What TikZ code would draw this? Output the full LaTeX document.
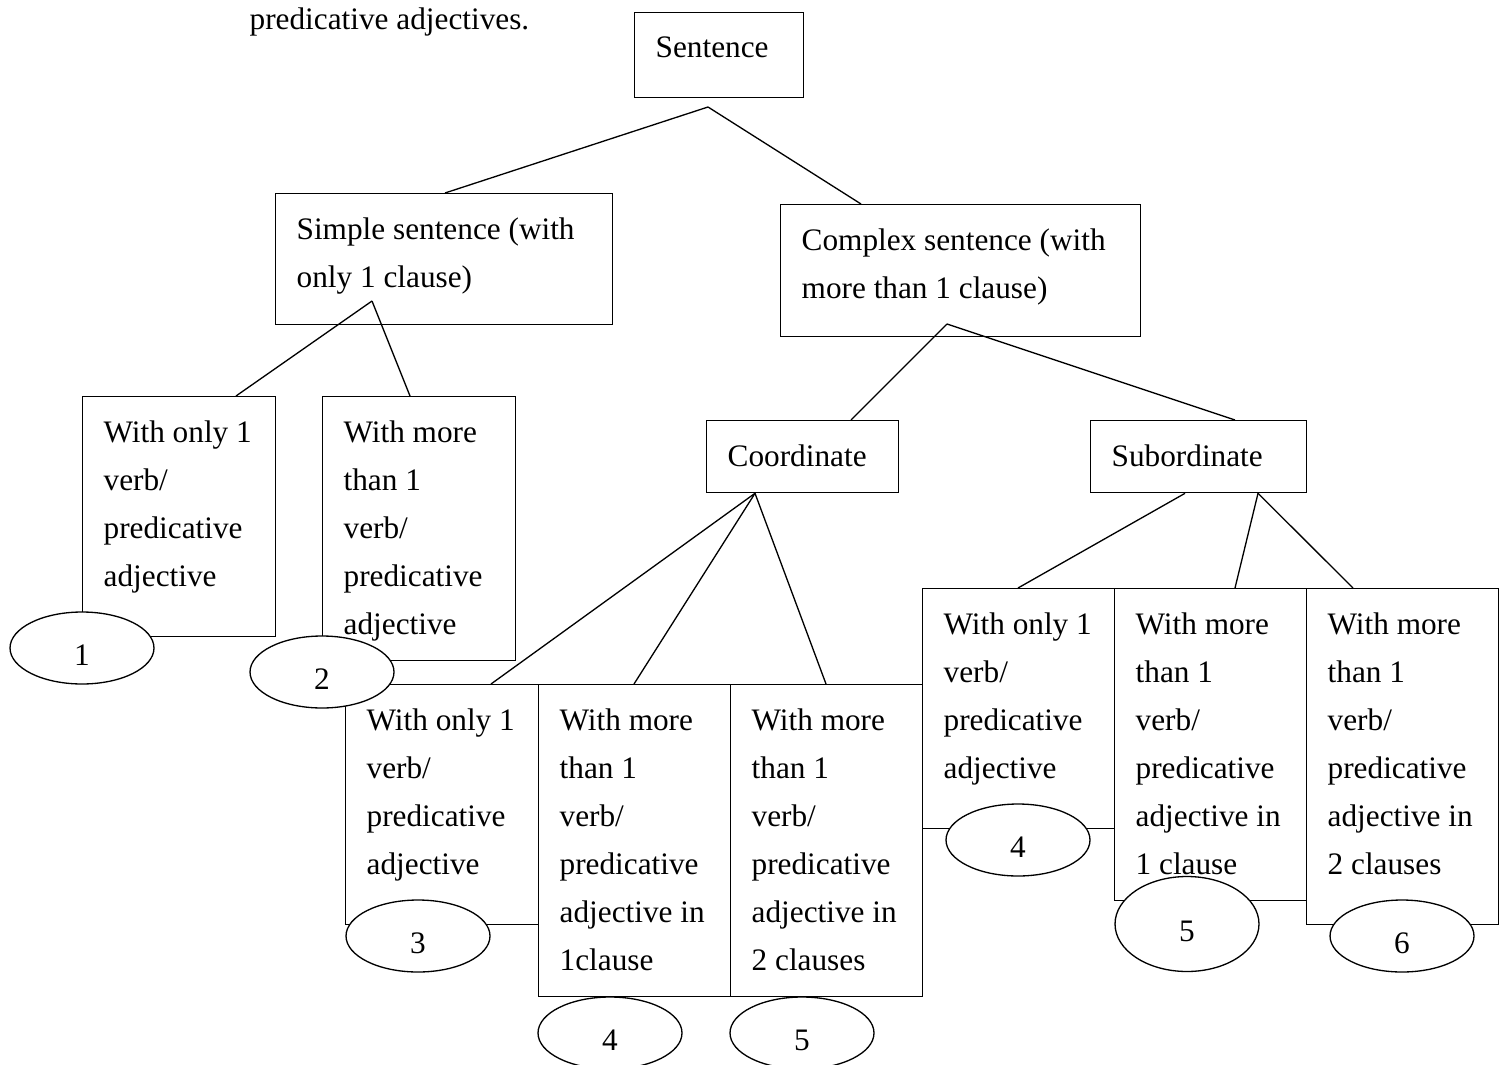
\documentclass[tikz,border=0pt]{standalone}
\usepackage{fontspec}
\setmainfont{Liberation Serif}
\usetikzlibrary{shapes.geometric}

\begin{document}
\begin{tikzpicture}[
        x=0.02cm, y=-0.02cm,
        line width=0.75pt,
        frame/.style={draw, rectangle, anchor=north west, inner sep=0pt},
        txt/.style={anchor=north west, inner sep=0pt, align=left, font=\fontsize{17.8}{27.3}\selectfont},
        num/.style={draw, ellipse, fill=white, inner sep=0pt, minimum width=2.88cm, minimum height=1.44cm,
            text height=20pt, text depth=0pt, font=\fontsize{17.8}{27.3}\selectfont}
    ]
    \useasboundingbox (0,0) rectangle (1506,1064);

    % frames
    \node[frame, minimum width=3.38cm, minimum height=1.70cm] (sentence) at (634,12) {};
    \node[frame, minimum width=6.74cm, minimum height=2.62cm] (simple) at (275,193) {};
    \node[frame, minimum width=7.20cm, minimum height=2.64cm] (complex) at (780,204) {};
    \node[frame, minimum width=3.84cm, minimum height=1.44cm] (coord) at (706,420) {};
    \node[frame, minimum width=4.32cm, minimum height=1.44cm] (subord) at (1090,420) {};
    \node[frame, minimum width=3.86cm, minimum height=4.80cm] (a1) at (82,396) {};
    \node[frame, minimum width=3.86cm, minimum height=5.28cm] (a2) at (322,396) {};
    \node[frame, minimum width=3.86cm, minimum height=4.80cm] (c1) at (345,684) {};
    \node[frame, minimum width=3.84cm, minimum height=6.24cm] (c2) at (538,684) {};
    \node[frame, minimum width=3.84cm, minimum height=6.24cm] (c3) at (730,684) {};
    \node[frame, minimum width=3.84cm, minimum height=4.80cm] (s1) at (922,588) {};
    \node[frame, minimum width=3.84cm, minimum height=6.24cm] (s2) at (1114,588) {};
    \node[frame, minimum width=3.84cm, minimum height=6.72cm] (s3) at (1306,588) {};

    % numbers
    \node[num] (n1) at (82,648) {1};
    \node[num] (n2) at (322,672) {2};
    \node[num] (n3) at (418,936) {3};
    \node[num] (n4) at (610,1033) {4};
    \node[num] (n5) at (802,1033) {5};
    \node[num] (n6) at (1018,840) {4};
    \node[num, minimum height=1.90cm] (n7) at (1187,924) {5};
    \node[num] (n8) at (1402,936) {6};

    % texts
    \node[txt, anchor=base west] (caption) at (249,30) {predicative adjectives.};
    \node[txt] (sentencetxt) at ([shift={(21,24)}]sentence.north west) {Sentence};
    \node[txt] (simpletxt) at ([shift={(21,24)}]simple.north west) {Simple sentence (with\\only 1 clause)};
    \node[txt] (complextxt) at ([shift={(21,24)}]complex.north west) {Complex sentence (with\\more than 1 clause)};
    \node[txt] (coordtxt) at ([shift={(21,24)}]coord.north west) {Coordinate};
    \node[txt] (subordtxt) at ([shift={(21,24)}]subord.north west) {Subordinate};
    \node[txt] (a1txt) at ([shift={(21,24)}]a1.north west) {With only 1\\verb/\\predicative\\adjective};
    \node[txt] (a2txt) at ([shift={(21,24)}]a2.north west) {With more\\than 1\\verb/\\predicative\\adjective};
    \node[txt] (c1txt) at ([shift={(21,24)}]c1.north west) {With only 1\\verb/\\predicative\\adjective};
    \node[txt] (c2txt) at ([shift={(21,24)}]c2.north west) {With more\\than 1\\verb/\\predicative\\adjective in\\1clause};
    \node[txt] (c3txt) at ([shift={(21,24)}]c3.north west) {With more\\than 1\\verb/\\predicative\\adjective in\\2 clauses};
    \node[txt] (s1txt) at ([shift={(21,24)}]s1.north west) {With only 1\\verb/\\predicative\\adjective};
    \node[txt] (s2txt) at ([shift={(21,24)}]s2.north west) {With more\\than 1\\verb/\\predicative\\adjective in\\1 clause};
    \node[txt] (s3txt) at ([shift={(21,24)}]s3.north west) {With more\\than 1\\verb/\\predicative\\adjective in\\2 clauses};

    % branches
    \coordinate (j0) at (708,107);
    \coordinate (j1) at (372,301);
    \coordinate (j2) at (947,324);
    \draw (j0) -- (simple.north -| 445,0);
    \draw (j0) -- (complex.north -| 861,0);
    \draw (j1) -- (a1.north -| 236,0);
    \draw (j1) -- (a2.north -| 410,0);
    \draw (j2) -- (coord.north -| 851,0);
    \draw (j2) -- (subord.north -| 1235,0);
    \draw (coord.south -| 755,0) -- (c1.north -| 491,0);
    \draw (coord.south -| 755,0) -- (c2.north -| 634,0);
    \draw (coord.south -| 755,0) -- (c3.north -| 826,0);
    \draw (subord.south -| 1185,0) -- (s1.north -| 1018,0);
    \draw (subord.south -| 1258,0) -- (s2.north -| 1235,0);
    \draw (subord.south -| 1258,0) -- (s3.north -| 1353,0);
\end{tikzpicture}
\end{document}
